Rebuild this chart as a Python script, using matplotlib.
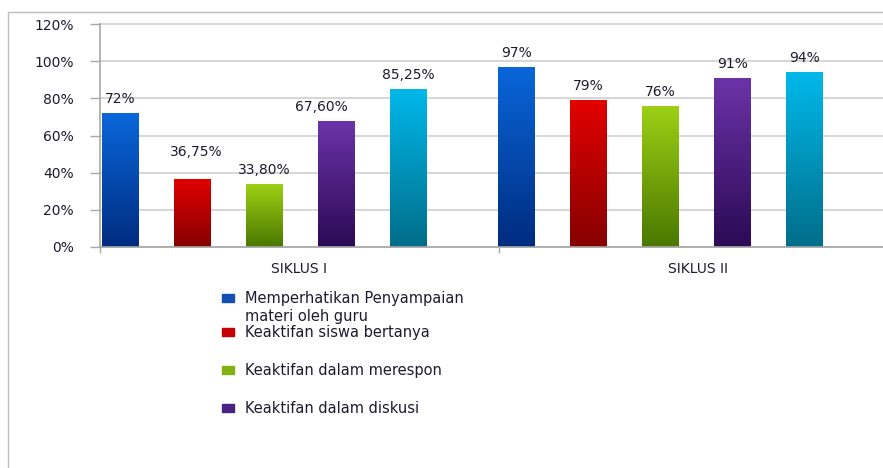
import numpy as np
import matplotlib
matplotlib.use("Agg")
import matplotlib.pyplot as plt
from matplotlib.colors import to_rgb
from matplotlib.patches import Rectangle

# data
categories = ["SIKLUS I", "SIKLUS II"]
memperhatikan = [72.0, 97.0]
bertanya = [36.75, 79.0]
merespon = [33.80, 76.0]
diskusi = [67.60, 91.0]
seri_lima = [85.25, 94.0]
value_labels = [
    ["72%", "97%"],
    ["36,75%", "79%"],
    ["33,80%", "76%"],
    ["67,60%", "91%"],
    ["85,25%", "94%"],
]
legend_labels = [
    "Memperhatikan Penyampaian\nmateri oleh guru",
    "Keaktifan siswa bertanya",
    "Keaktifan dalam merespon",
    "Keaktifan dalam diskusi",
]
y_ticks = [0, 20, 40, 60, 80, 100, 120]

series = [memperhatikan, bertanya, merespon, diskusi, seri_lima]
# (top, bottom) gradient colours
grad_colors = [
    ("#0a66da", "#002c80"),
    ("#e20000", "#860000"),
    ("#9dd015", "#4a7800"),
    ("#6b33a8", "#2c0a55"),
    ("#00b8ea", "#006e8a"),
]
legend_colors = ["#1150b2", "#c40000", "#82b212", "#4a2282"]

W, H = 883, 468
fig = plt.figure(figsize=(W / 100, H / 100), dpi=100)


def px(x, y):
    return x / W, 1 - y / H


# outer chart border (cut off on right and bottom like the source)
fig.patches.append(Rectangle(px(8, 480), (W + 20) / W, (480 - 12) / H,
                             transform=fig.transFigure, fill=False,
                             edgecolor="#bdbdbd", lw=1.0))

x0, y0 = px(100, 247)
ax = fig.add_axes([x0, y0, (W - 100) / W, (247 - 24) / H])

group_gap = 5.5
bar_w = 0.51
xlim = (-2.28, 8.595)
cat_w = 5.54

for i, vals in enumerate(series):
    xs = [g * group_gap + i - 2 for g in range(len(categories))]
    bars = ax.bar(xs, vals, width=bar_w, color="none", edgecolor="none", zorder=2)
    top, bot = np.array(to_rgb(grad_colors[i][0])), np.array(to_rgb(grad_colors[i][1]))
    t = np.linspace(0, 1, 64)[:, None, None]
    grad = top * (1 - t) + bot * t
    for b in bars:
        im = ax.imshow(grad, extent=(b.get_x(), b.get_x() + b.get_width(), 0, b.get_height()),
                       aspect="auto", origin="upper", zorder=2, interpolation="bilinear")
        im.set_clip_path(b)
    for x, v, lab in zip(xs, vals, value_labels[i]):
        dx, dy = 0, 10
        if lab == "36,75%":
            dx, dy = 3, 19
        elif lab == "67,60%":
            dx = -11
        ax.annotate(lab, (x, v), xytext=(dx, dy), textcoords="offset points",
                    ha="center", va="center", fontsize=10, color="#1c1c2e", zorder=4)

ax.set_xlim(*xlim)
ax.set_ylim(0, 120)

ax.set_yticks(y_ticks)
ax.set_yticklabels([f"{v}%" for v in y_ticks])
ax.yaxis.grid(True, color="#cfcfcf", lw=1.2, zorder=0)
for gl in ax.get_ygridlines():
    gl.set_clip_on(False)
ax.set_axisbelow(True)
ax.tick_params(axis="y", length=7, width=1, color="#a8a8a8", pad=12,
               labelsize=10, labelcolor="#1c1c2e")

ax.set_xticks([xlim[0] + (k + 0.5) * cat_w for k in range(len(categories))])
ax.set_xticklabels(categories)
ax.set_xticks([xlim[0] + k * cat_w for k in range(len(categories))], minor=True)
ax.tick_params(axis="x", which="major", length=0, pad=11, labelsize=10, labelcolor="#1c1c2e")
ax.tick_params(axis="x", which="minor", length=4, width=1, color="#a8a8a8")

for s in ["top", "right"]:
    ax.spines[s].set_visible(False)
for s in ["left", "bottom"]:
    ax.spines[s].set_color("#a8a8a8")
    ax.spines[s].set_linewidth(1.2)

# legend (clipped by the chart frame, only four entries visible)
entry_y = [298, 332, 370, 408]
for lab, col, ly in zip(legend_labels, legend_colors, entry_y):
    fig.patches.append(Rectangle(px(222, ly + 4), 12 / W, 8 / H,
                                 transform=fig.transFigure, color=col))
    fig.text(*px(245, ly - 7), lab, ha="left", va="top", fontsize=10.5,
             color="#1c1c2e", linespacing=1.25)

fig.savefig("out.png", dpi=100)
